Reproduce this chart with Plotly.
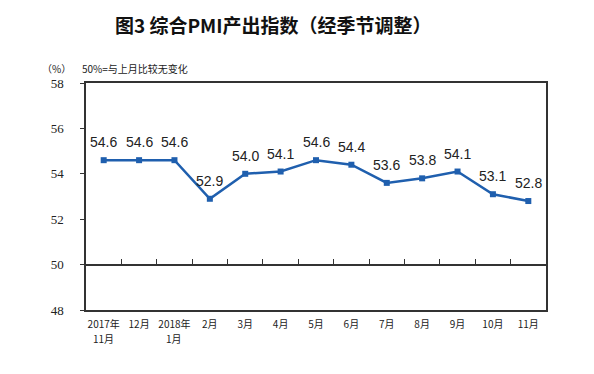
import plotly.graph_objects as go

categories_row1 = ["2017年", "12月", "2018年", "2月", "3月", "4月", "5月",
                   "6月", "7月", "8月", "9月", "10月", "11月"]
categories_row2 = ["11月", "", "1月", "", "", "", "", "", "", "", "", "", ""]
values = [54.6, 54.6, 54.6, 52.9, 54.0, 54.1, 54.6, 54.4, 53.6, 53.8, 54.1, 53.1, 52.8]
y_ticks = [48, 50, 52, 54, 56, 58]

xs = list(range(len(values)))
line_color = "#1F5FAE"

fig = go.Figure()
fig.add_trace(go.Scatter(
    x=xs, y=values, mode="lines+markers",
    line=dict(color=line_color, width=2.5),
    marker=dict(symbol="square", size=6, color=line_color),
    showlegend=False,
))
fig.add_trace(go.Scatter(x=xs, y=values, xaxis="x2", mode="lines",
                         line=dict(width=0), hoverinfo="skip", showlegend=False))

annotations = []
for x, v in zip(xs, values):
    annotations.append(dict(
        x=x, y=v, xref="x", yref="y", text=f"{v:.1f}", showarrow=False,
        yshift=18, xanchor="center", yanchor="middle",
        font=dict(family="Liberation Sans, Arial", size=14, color="#222222")))
for x, t in zip(xs, categories_row2):
    if t:
        annotations.append(dict(
            x=x, y=-0.127, xref="x", yref="paper", text=t, showarrow=False,
            xanchor="center", yanchor="middle",
            font=dict(family="Noto Sans CJK SC", size=10, color="#222222")))
annotations += [
    dict(text="（%）", xref="paper", yref="paper", x=-0.065, y=1.066,
         xanchor="center", yanchor="middle", showarrow=False,
         font=dict(family="Noto Sans CJK SC", size=10, color="#222222")),
    dict(text="50%=与上月比较无变化", xref="paper", yref="paper", x=-0.013, y=1.066,
         xanchor="left", yanchor="middle", showarrow=False,
         font=dict(family="Noto Sans CJK SC", size=10, color="#222222")),
]

fig.update_layout(
    width=594, height=374,
    margin=dict(l=86, r=48, t=83, b=64),
    paper_bgcolor="white", plot_bgcolor="white",
    title=dict(text="<b>图3 综合PMI产出指数（经季节调整）</b>", x=0.46, xanchor="center",
               y=0.93, yanchor="middle",
               font=dict(family="Noto Sans CJK SC", size=19, color="#111111")),
    xaxis=dict(
        range=[-0.5, len(values) - 0.5],
        tickvals=xs, ticktext=categories_row1, tickangle=0,
        showline=True, linecolor="#333333", linewidth=1.5, mirror=True,
        showgrid=False, zeroline=False, ticks="", ticklabelstandoff=4,
        tickfont=dict(family="Noto Sans CJK SC", size=10, color="#222222"),
    ),
    xaxis2=dict(
        overlaying="x", anchor="free", position=(50 - 48) / (58 - 48),
        range=[-0.5, len(values) - 0.5],
        tickvals=[i + 0.5 for i in xs[:-1]], showticklabels=False,
        ticks="inside", ticklen=5, tickcolor="#333333",
        showline=True, linecolor="#333333", linewidth=1.5,
        showgrid=False, zeroline=False, side="bottom",
    ),
    yaxis=dict(
        range=[48, 58], tickvals=y_ticks,
        showline=True, linecolor="#333333", linewidth=1.5, mirror=True,
        showgrid=False, zeroline=False, ticks="outside", ticklen=4, tickcolor="#333333",
        ticklabelstandoff=14,
        tickfont=dict(family="Liberation Serif", size=13, color="#222222"),
    ),
    annotations=annotations,
)

fig.write_html("out.html", post_script="document.body.style.margin='0';",
               config={"displayModeBar": False})
